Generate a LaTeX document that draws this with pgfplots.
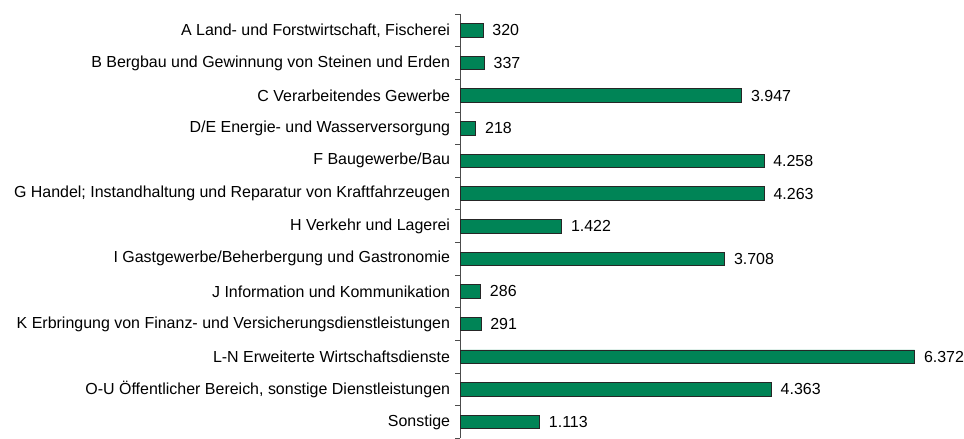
\documentclass[border=0pt]{standalone}
\usepackage{pgfplots}
\pgfplotsset{compat=1.18}
\usepackage{fontspec}
\setmainfont{Liberation Sans}
\definecolor{bargreen}{RGB}{0,132,86}
\begin{document}
\begin{tikzpicture}
\begin{axis}[
  scale only axis,
  width=485pt, height=425pt,
  xbar, bar width=13.5pt,
  xmin=0, xmax=6790,
  ymin=-0.5, ymax=12.5,
  y dir=reverse,
  axis x line=none,
  axis y line*=left,
  y axis line style={black!70, line width=0.8pt},
  ytick={0,...,12},
  yticklabels={
    {A Land- und Forstwirtschaft, Fischerei},
    {B Bergbau und Gewinnung von Steinen und Erden},
    {C Verarbeitendes Gewerbe},
    {D/E Energie- und Wasserversorgung},
    {F Baugewerbe/Bau},
    {G Handel; Instandhaltung und Reparatur von Kraftfahrzeugen},
    {H Verkehr und Lagerei},
    {I Gastgewerbe/Beherbergung und Gastronomie},
    {J Information und Kommunikation},
    {K Erbringung von Finanz- und Versicherungsdienstleistungen},
    {L-N Erweiterte Wirtschaftsdienste},
    {O-U Öffentlicher Bereich, sonstige Dienstleistungen},
    {Sonstige}},
  major tick length=0pt,
  minor ytick={-0.5,0.5,...,12.5},
  minor tick length=5pt,
  tick align=outside,
  minor tick style={black!70, line width=0.8pt},
  yticklabel style={font=\fontsize{16}{18}\selectfont, inner sep=0pt, xshift=-10pt, anchor=east},
  /pgf/number format/assume math mode=true,
  nodes near coords,
  nodes near coords style={font=\fontsize{16}{18}\selectfont, anchor=west, inner sep=0pt, xshift=9pt,
    /pgf/number format/.cd, 1000 sep={.}, assume math mode=true},
  clip=false,
]
\addplot[fill=bargreen, draw=black!85, line width=0.7pt] coordinates {
  (320,0) (337,1) (3947,2) (218,3) (4258,4) (4263,5) (1422,6)
  (3708,7) (286,8) (291,9) (6372,10) (4363,11) (1113,12)
};
\path (rel axis cs:0,1) ++(-461pt,14pt);
\path (rel axis cs:0,0) ++(503pt,0pt);
\end{axis}
\end{tikzpicture}
\end{document}
